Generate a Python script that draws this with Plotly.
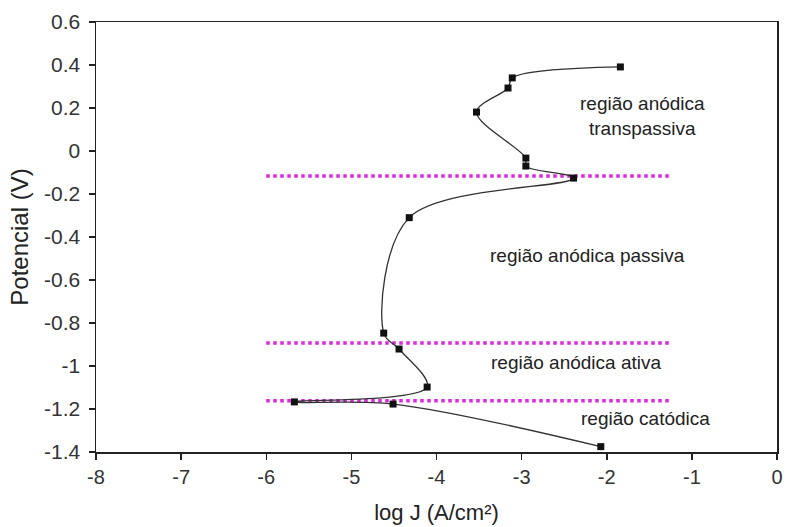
import plotly.graph_objects as go

# Polarization curve points (in drawing order, from cathodic branch upward)
log_j = [-2.07, -4.51, -5.67, -4.11, -4.44, -4.62, -4.32, -2.39, -2.95, -2.95, -3.53, -3.16, -3.11, -1.84]
potential = [-1.375, -1.177, -1.167, -1.098, -0.921, -0.847, -0.31, -0.126, -0.07, -0.033, 0.181, 0.293, 0.34, 0.391]

# Region boundary lines (potential) and their log J extent
boundaries = [-0.116, -0.893, -1.162]
boundary_x = [-6.0, -1.25]

# Region labels
label_text = ["região anódica<br>transpassiva", "região anódica passiva", "região anódica ativa", "região catódica"]
label_x = [-1.58, -2.23, -2.36, -1.54]
label_y = [0.163, -0.484, -0.986, -1.242]

y_ticks = [0.6, 0.4, 0.2, 0, -0.2, -0.4, -0.6, -0.8, -1, -1.2, -1.4]
y_tick_text = ["0.6", "0.4", "0.2", "0", "-0.2", "-0.4", "-0.6", "-0.8", "-1", "-1.2", "-1.4"]
x_ticks = [-8, -7, -6, -5, -4, -3, -2, -1, 0]
x_tick_text = ["-8", "-7", "-6", "-5", "-4", "-3", "-2", "-1", "0"]

FONT = "Liberation Sans, Arial, sans-serif"

fig = go.Figure()

for b in boundaries:
    fig.add_trace(go.Scatter(
        x=boundary_x, y=[b, b], mode="lines",
        line=dict(color="#e026e0", width=3.5, dash="3.5px,3.5px"),
        hoverinfo="skip", showlegend=False,
    ))

fig.add_trace(go.Scatter(
    x=log_j, y=potential, mode="lines+markers",
    line=dict(color="#333333", width=1.3, shape="spline", smoothing=1.0),
    marker=dict(symbol="square", size=7, color="#111111"),
    showlegend=False,
))

for t, x, y in zip(label_text, label_x, label_y):
    fig.add_annotation(x=x, y=y, text=t, showarrow=False,
                       font=dict(family=FONT, size=19, color="#222222"),
                       xanchor="center", yanchor="middle")

axis_common = dict(
    showline=True, linecolor="#222222", linewidth=1.5, mirror=True,
    ticks="outside", ticklen=6, tickwidth=1.5, tickcolor="#222222",
    showgrid=False, zeroline=False, automargin=False,
)

fig.update_xaxes(range=[-8, 0], tickvals=x_ticks, ticktext=x_tick_text,
                 tickfont=dict(family=FONT, size=20, color="#333333"),
                 title=dict(text="log J (A/cm²)", font=dict(family=FONT, size=22, color="#222222"), standoff=18),
                 **axis_common)
fig.update_yaxes(range=[-1.4, 0.6], tickvals=y_ticks, ticktext=y_tick_text,
                 tickfont=dict(family=FONT, size=21, color="#333333"),
                 ticklabelstandoff=4,
                 title=dict(text="Potencial (V)", font=dict(family=FONT, size=24, color="#222222"), standoff=8),
                 **axis_common)

fig.update_layout(
    width=786, height=527,
    margin=dict(l=96, r=9, t=22, b=75),
    paper_bgcolor="white", plot_bgcolor="white",
    font=dict(family=FONT),
)

fig.write_html("out.html",
               config={"displayModeBar": False, "staticPlot": True},
               post_script="document.body.style.margin='0';document.body.style.overflow='hidden';")
